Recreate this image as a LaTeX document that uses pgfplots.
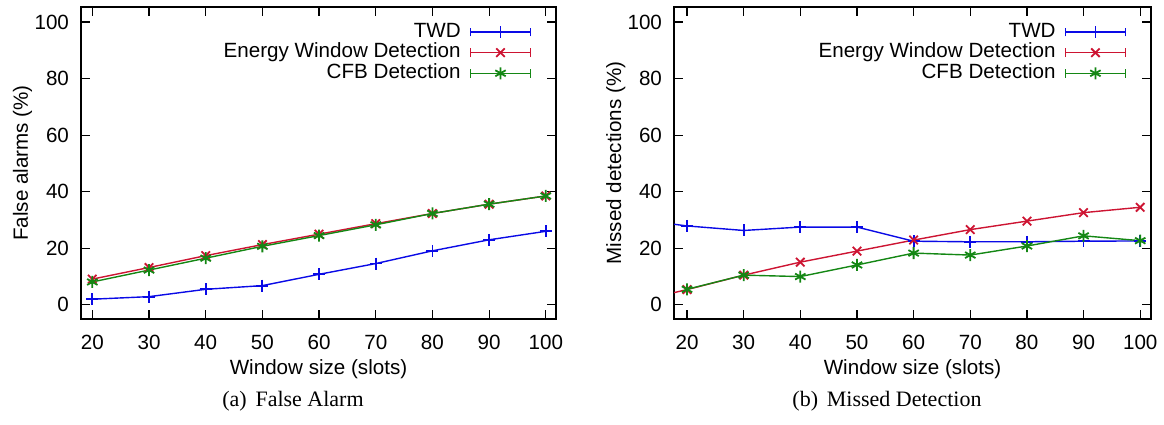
\documentclass[border=0pt]{standalone}
\usepackage{fontspec}
\setmainfont{Liberation Sans}
\newfontfamily\capfont{Liberation Serif}
\usepackage{pgfplots}
\pgfplotsset{compat=1.18}

\definecolor{gpblue}{RGB}{10,10,230}
\definecolor{gpred}{RGB}{205,20,50}
\definecolor{gpgreen}{RGB}{20,135,20}

\pgfplotsset{
  gpaxis/.style={
    scale only axis,
    width=237.5pt, height=156pt,
    anchor=south west,
    xmin=18, xmax=101.8,
    ymin=-5, ymax=105.3,
    xtick={20,30,...,100},
    ytick={0,20,...,100},
    axis line style={line width=0.75pt},
    tick style={black, line width=0.6pt},
    major tick length=4.5pt,
    tick align=inside,
    xtick pos=both, ytick pos=both,
    xticklabel pos=lower, yticklabel pos=left,
    /pgf/number format/assume math mode=true,
    tick label style={font=\fontsize{10.3}{12}\selectfont},
    xticklabel style={anchor=center, yshift=-11.5pt},
    yticklabel style={anchor=east, xshift=-2.5pt},
    label style={font=\fontsize{10.3}{12}\selectfont},
    xlabel style={at={(axis description cs:0.5,-0.16)}, anchor=center},
    ylabel style={at={(axis description cs:-0.123,0.5)}, anchor=center, rotate=0},
    xlabel={Window size (slots)},
    legend style={draw=none, fill=none, font=\fontsize{10.3}{12}\selectfont,
      at={(rel axis cs:0.949,0.953)}, anchor=north east,
      inner sep=0pt, row sep=0.3pt, column sep=4.5pt,
      nodes={inner sep=0pt, text height=7.5pt, text depth=2.5pt},
      cells={anchor=east}},
    legend plot pos=right,
    legend image code/.code={
      \draw[mark=none, line width=0.85pt] (0pt,-2.2pt)--(0pt,2.2pt) (30pt,-2.2pt)--(30pt,2.2pt);
      \draw[mark repeat=2,mark phase=2] plot coordinates {(0pt,0pt)(15pt,0pt)(30pt,0pt)};
    },
    every axis plot/.append style={line width=0.7pt, mark size=3pt, mark options={solid, line width=0.9pt}},
  },
  twd/.style={color=gpblue, mark=+},
  ewd/.style={color=gpred, mark=x},
  cfb/.style={color=gpgreen, mark=asterisk},
}

\begin{document}
\begin{tikzpicture}
\useasboundingbox (0,0) rectangle (582pt,212pt);

% (a) False Alarm
\begin{axis}[gpaxis, at={(40.5pt,52.5pt)}, ylabel={False alarms (\%)}]
\addplot[twd] coordinates {
  (20,2.0) (30,2.9) (40,5.5) (50,6.8) (60,10.8) (70,14.6) (80,19.1) (90,23.0) (100,26.0)
};
\addplot[ewd] coordinates {
  (20,9.1) (30,13.2) (40,17.4) (50,21.3) (60,25.0) (70,28.7) (80,32.3) (90,35.6) (100,38.5)
};
\addplot[cfb] coordinates {
  (20,8.1) (30,12.3) (40,16.5) (50,20.7) (60,24.5) (70,28.3) (80,32.3) (90,35.6) (100,38.5)
};
\legend{TWD, Energy Window Detection, CFB Detection}
\end{axis}

% (b) Missed Detection
\begin{axis}[gpaxis, at={(337pt,52.5pt)}, width=238.5pt, xmin=17.7, xmax=101.9,
  ylabel style={at={(axis description cs:-0.122,0.5)}},
  ylabel={Missed detections (\%)}]
\addplot[twd] coordinates {
  (10,30.5) (20,27.9) (30,26.3) (40,27.5) (50,27.5) (60,22.5) (70,22.3) (80,22.3) (90,22.5) (100,22.6)
};
\addplot[ewd] coordinates {
  (10,0.7) (20,5.4) (30,10.5) (40,15.1) (50,19.0) (60,22.9) (70,26.6) (80,29.6) (90,32.6) (100,34.5)
};
\addplot[cfb] coordinates {
  (20,5.5) (30,10.5) (40,10.0) (50,14.1) (60,18.3) (70,17.6) (80,20.8) (90,24.4) (100,22.7)
};
\legend{TWD, Energy Window Detection, CFB Detection}
\end{axis}

\node[font=\capfont\fontsize{11}{13}\selectfont] at (146.5pt,11.3pt) {(a)\hspace{0.4em}False Alarm};
\node[font=\capfont\fontsize{11}{13}\selectfont] at (443.5pt,11.3pt) {(b)\hspace{0.4em}Missed Detection};
\end{tikzpicture}
\end{document}
